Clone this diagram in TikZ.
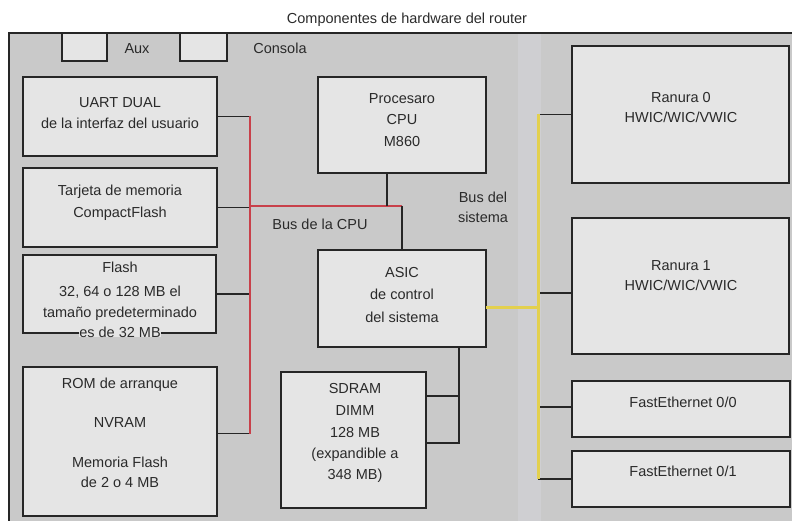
\documentclass[tikz,border=0pt]{standalone}
\usepackage{fontspec}
\setmainfont{Liberation Sans}
\definecolor{bgc}{HTML}{C9C9C9}
\definecolor{bandc}{HTML}{CFCFD2}
\definecolor{boxc}{HTML}{E5E5E5}
\definecolor{linec}{HTML}{262626}
\definecolor{txtc}{HTML}{2A2A2A}
\definecolor{redc}{HTML}{C8404A}
\definecolor{yelc}{HTML}{E3D04E}
\begin{document}
\begin{tikzpicture}[x=1pt,y=-1pt,
  box/.style={draw=linec, fill=boxc, line width=1.8pt, inner sep=0pt, outer sep=0pt, anchor=north west},
  txt/.style={text=txtc, font=\fontsize{14.5}{20}\selectfont, inner sep=0pt, text height=10.4pt, text depth=0pt},
  conn/.style={draw=linec, line width=1.8pt},
  redbus/.style={draw=redc, line width=1.8pt},
  ybus/.style={draw=yelc, line width=3pt}]
\useasboundingbox (0,0) rectangle (792,521);
% frame
\fill[bgc] (9,33) rectangle (792,521);
\fill[bandc] (518,34) rectangle (541,521);
\draw[linec, line width=1.8pt] (9,521) -- (9,33) -- (792,33);

% boxes
\node[box, minimum width=45pt, minimum height=28pt] (aux) at (62,33) {};
\node[box, minimum width=47pt, minimum height=28pt] (cons) at (180,33) {};
\node[box, minimum width=194pt, minimum height=79pt] (uart) at (23,77) {};
\node[box, minimum width=194pt, minimum height=79pt] (tarj) at (23,168) {};
\node[box, minimum width=193pt, minimum height=78pt] (flash) at (23,255) {};
\node[box, minimum width=194pt, minimum height=149pt] (rom) at (23,367) {};
\node[box, minimum width=168pt, minimum height=96pt] (cpu) at (318,77) {};
\node[box, minimum width=168pt, minimum height=97pt] (asic) at (318,250) {};
\node[box, minimum width=145pt, minimum height=136pt] (sdram) at (281,372) {};
\node[box, minimum width=217pt, minimum height=137pt] (r0) at (572,46) {};
\node[box, minimum width=217pt, minimum height=136pt] (r1) at (572,218) {};
\node[box, minimum width=218pt, minimum height=56pt] (fe0) at (572,381) {};
\node[box, minimum width=218pt, minimum height=56pt] (fe1) at (572,451) {};

% bus coordinates
\coordinate (rb) at (250,206);
\coordinate (yb) at (538,307);

% CPU bus (red)
\draw[conn] (uart.east) -- (uart.east -| rb);
\draw[conn] (tarj.east) -- (tarj.east -| rb);
\draw[conn] (flash.east) -- (flash.east -| rb);
\draw[conn] ([yshift=8pt]rom.east) -- ([yshift=8pt]rom.east -| rb);
\draw[redbus] (uart.east -| rb) -- ([yshift=8pt]rom.east -| rb);
\draw[redbus] (rb) -- (rb -| asic.north);
\draw[conn] ([xshift=-15pt]cpu.south) -- ([xshift=-15pt]cpu.south |- rb);
\draw[conn] (rb -| asic.north) -- (asic.north);

% SDRAM link
\coordinate (sd) at (459,396);
\draw[conn] (sdram.east |- sd) -- (sd) -- (sd |- asic.south);
\draw[conn] ([yshift=-3pt]sdram.east) -- ([yshift=-3pt]sdram.east -| sd) -- (sd);

% system bus (yellow)
\draw[conn] (r0.west) -- (r0.west -| yb);
\draw[conn] ([yshift=-7pt]r1.west) -- ([yshift=-7pt]r1.west -| yb);
\draw[conn] ([yshift=2pt]fe0.west) -- ([yshift=2pt]fe0.west -| yb);
\draw[conn] (fe1.west) -- (fe1.west -| yb);
\draw[ybus] (r0.west -| yb) -- (fe1.west -| yb);
\draw[ybus] (asic.east |- yb) -- (yb);

% texts
\node[txt] (title) at (407,18) {Componentes de hardware del router};
\node[txt] (tAux) at (137,48) {Aux};
\node[txt] (tCons) at (280,48) {Consola};
\node[txt] (tU1) at (120,102.5) {UART DUAL};
\node[txt] (tU2) at (120,123) {de la interfaz del usuario};
\node[txt] (tT1) at (120,190) {Tarjeta de memoria};
\node[txt] (tT2) at (120,212) {CompactFlash};
\node[txt] (tF1) at (120,267) {Flash};
\node[txt] (tF2) at (120,291) {32, 64 o 128 MB el};
\node[txt] (tF3) at (120,312) {tamaño predeterminado};
\node[txt, fill=boxc] (tF4) at (120,332) {es de 32 MB};
\node[txt] (tR1) at (120,383) {ROM de arranque};
\node[txt] (tR2) at (120,422) {NVRAM};
\node[txt] (tR3) at (120,462) {Memoria Flash};
\node[txt] (tR4) at (120,482) {de 2 o 4 MB};
\node[txt] (tC1) at (402,98) {Procesaro};
\node[txt] (tC2) at (402,119) {CPU};
\node[txt] (tC3) at (402,141) {M860};
\node[txt] (tA1) at (402,272) {ASIC};
\node[txt] (tA2) at (402,294) {de control};
\node[txt] (tA3) at (402,317) {del sistema};
\node[txt] (tS1) at (355,388) {SDRAM};
\node[txt] (tS2) at (355,410) {DIMM};
\node[txt] (tS3) at (355,432) {128 MB};
\node[txt] (tS4) at (355,453) {(expandible a};
\node[txt] (tS5) at (355,474) {348 MB)};
\node[txt] (tBc) at (320,224) {Bus de la CPU};
\node[txt] (tBs1) at (483,197) {Bus del};
\node[txt] (tBs2) at (483,217) {sistema};
\node[txt] (tR01) at (681,97) {Ranura 0};
\node[txt] (tR02) at (681,117) {HWIC/WIC/VWIC};
\node[txt] (tR11) at (681,265) {Ranura 1};
\node[txt] (tR12) at (681,285) {HWIC/WIC/VWIC};
\node[txt] (tFE0) at (683,402) {FastEthernet 0/0};
\node[txt] (tFE1) at (683,471) {FastEthernet 0/1};
\end{tikzpicture}
\end{document}
